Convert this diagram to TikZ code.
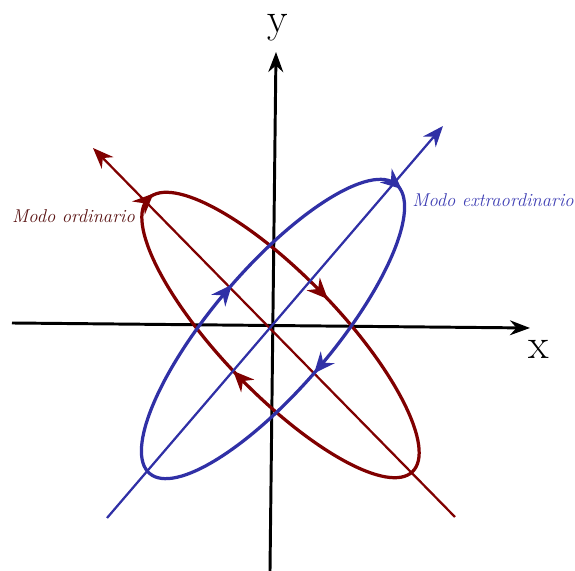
\documentclass[tikz,border=0pt]{standalone}
\usepackage{tikz}
\usepackage{xcolor}
\usetikzlibrary{arrows.meta,decorations.markings}
\definecolor{ink}     {HTML}{000000}
\definecolor{ordred}  {HTML}{800000}
\definecolor{ordtext} {HTML}{5A1414}
\definecolor{extblue} {HTML}{3030A6}
\definecolor{exttext} {HTML}{4040B4}
\tikzset{
  axis/.style     ={draw=ink, line width=2.1pt,
                    -{Stealth[length=5mm,width=3.7mm]}},
  modeline/.style ={line width=1.6pt,
                    -{Stealth[length=5.2mm,width=4.1mm]}},
  orbit/.style    ={line width=2.3pt, postaction={decorate},
                    decoration={markings,
                      mark=at position 0.25 with {\arrow[xshift=5pt]{Stealth[length=5.2mm,width=4.5mm]}},
                      mark=at position 0.5  with {\arrow[xshift=5pt]{Stealth[length=5.2mm,width=4.5mm]}},
                      mark=at position 0.75 with {\arrow[xshift=5pt]{Stealth[length=5.2mm,width=4.5mm]}}}},
  axlabel/.style  ={font=\fontsize{30}{36}\selectfont, inner sep=0pt},
  modelabel/.style={font=\fontsize{13.2}{15}\selectfont\itshape, inner sep=0pt},
}

\begin{document}
\begin{tikzpicture}[x=0.025cm,y=0.025cm]
  \useasboundingbox (-272,-245) rectangle (303,326);

  \coordinate (xl) at (-260,3);
  \coordinate (xr) at (258,-2);
  \coordinate (yb) at (-2,-245);
  \coordinate (yt) at (4,274);
  \draw[axis] (xl) -- (xr);
  \draw[axis] (yb) -- (yt);
  \node[axlabel] (xlab) at (267,-23) {x};
  \node[axlabel] (ylab) at (6,298) {y};

  \coordinate (ordlow) at (183,-191);
  \coordinate (ordup)  at (-179,178);
  \draw[modeline,ordred] (ordlow) -- (ordup);
  \begin{scope}[shift={(8.5,-9)},rotate=-46]
    \draw[orbit,ordred] (190,0) arc[start angle=360,end angle=0,x radius=190,y radius=59];
  \end{scope}

  \coordinate (extlow) at (-165,-192);
  \coordinate (extup)  at (171,200);
  \draw[modeline,extblue] (extlow) -- (extup);
  \begin{scope}[shift={(1,-3)},rotate=49.5]
    \draw[orbit,extblue] (-190,0) arc[start angle=180,end angle=-180,x radius=190,y radius=60];
  \end{scope}

  \node[modelabel,text=ordtext] (ordlab) at (-198.5,109.5) {Modo ordinario};
  \node[modelabel,text=exttext,anchor=west] (extlab) at (140,126) {Modo extraordinario};
\end{tikzpicture}
\end{document}
